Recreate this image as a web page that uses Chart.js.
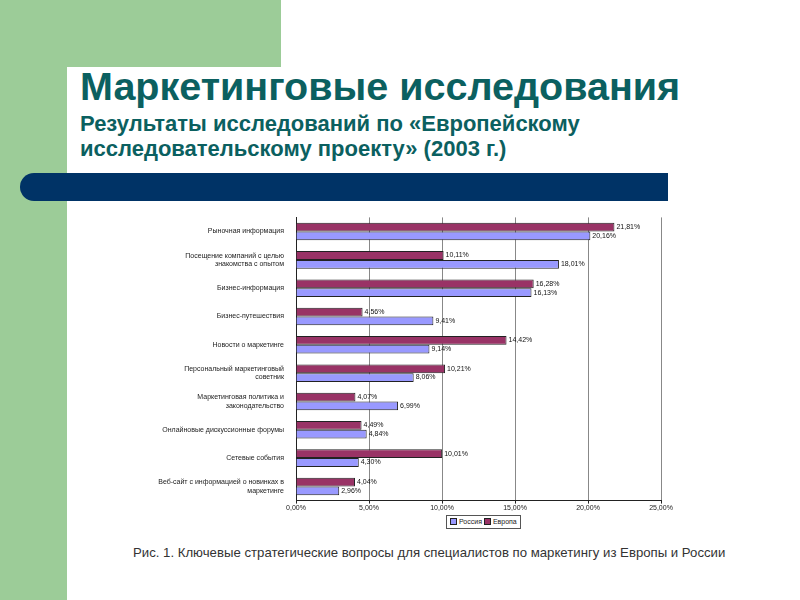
<!DOCTYPE html>
<html>
<head>
<meta charset="utf-8">
<script src="https://cdn.jsdelivr.net/npm/chart.js@4/dist/chart.umd.min.js"></script>
<style>
  body { margin: 0; width: 800px; height: 600px; overflow: hidden; background: #fff; font-family: "Liberation Sans", Arial, sans-serif; position: relative; }
  .greenTop { position: absolute; left: 0; top: 0; width: 281px; height: 67px; background: #9ccc98; }
  .greenLeft { position: absolute; left: 0; top: 0; width: 67px; height: 600px; background: #9ccc98; }
  .whiteCorner { position: absolute; left: 67px; top: 67px; width: 40px; height: 40px; background: #fff; border-top-left-radius: 18px; }
  .title { position: absolute; left: 80px; top: 64px; font-size: 39.5px; font-weight: bold; color: #0b6060; white-space: nowrap; }
  .subtitle { position: absolute; left: 80px; top: 111px; font-size: 22px; font-weight: bold; color: #0b6060; line-height: 25px; white-space: nowrap; }
  .navyBar { position: absolute; left: 20px; top: 173px; width: 648px; height: 28px; background: #003366; border-radius: 14px 0 0 14px; }
  .chartBox { position: absolute; left: 150px; top: 205px; width: 530px; height: 307px; }
  .legend { position: absolute; left: 446px; top: 515px; border: 1px solid #555; padding: 1px 3px; font-size: 7px; color: #222; white-space: nowrap; line-height: 10px; }
  .legend span.box { display: inline-block; width: 5px; height: 5px; border: 1px solid #222; margin-right: 2px; vertical-align: -1px; }
  .caption { position: absolute; left: 133px; top: 545px; font-size: 13.2px; color: #333; white-space: nowrap; }
</style>
</head>
<body>
<div class="greenTop"></div>
<div class="greenLeft"></div>
<div class="whiteCorner"></div>
<div class="title">Маркетинговые исследования</div>
<div class="subtitle">Результаты исследований по «Европейскому<br>исследовательскому проекту» (2003 г.)</div>
<div class="navyBar"></div>
<div class="chartBox"><canvas id="myChart" width="530" height="307"></canvas></div>
<div class="legend"><span class="box" style="background:#9999ff"></span>Россия <span class="box" style="background:#993366"></span>Европа</div>
<div class="caption">Рис. 1. Ключевые стратегические вопросы для специалистов по маркетингу из Европы и России</div>

<script>
const categories = [
  "Рыночная информация",
  ["Посещение компаний с целью", "знакомства с опытом"],
  "Бизнес-информация",
  "Бизнес-путешествия",
  "Новости о маркетинге",
  ["Персональный маркетинговый", "советник"],
  ["Маркетинговая политика и", "законодательство"],
  "Онлайновые дискуссионные форумы",
  "Сетевые события",
  ["Веб-сайт с информацией о новинках в", "маркетинге"],
];
const europe = [21.81, 10.11, 16.28, 4.56, 14.42, 10.21, 4.07, 4.49, 10.01, 4.04];
const russia = [20.16, 18.01, 16.13, 9.41, 9.14, 8.06, 6.99, 4.84, 4.30, 2.96];
const xTicks = [0, 5, 10, 15, 20, 25];

const pct = (v) => v.toFixed(2).replace(".", ",") + "%";

// подписи значений справа от столбцов
const valueLabels = {
  id: "valueLabels",
  afterDatasetsDraw(chart) {
    const ctx = chart.ctx;
    ctx.save();
    ctx.font = "7px 'Liberation Sans', Arial";
    ctx.fillStyle = "#111";
    ctx.textBaseline = "middle";
    chart.data.datasets.forEach((ds, i) => {
      chart.getDatasetMeta(i).data.forEach((bar, j) => {
        ctx.fillText(pct(ds.data[j]), bar.x + 2, bar.y);
      });
    });
    ctx.restore();
  },
};

const ctx = document.getElementById("myChart");

new Chart(ctx, {
  type: "bar",
  data: {
    labels: categories,
    datasets: [
      {
        label: "Европа",
        data: europe,
        backgroundColor: "#993366",
        borderColor: "#222",
        borderWidth: 1,
        categoryPercentage: 0.62,
        barPercentage: 1,
      },
      {
        label: "Россия",
        data: russia,
        backgroundColor: "#9999ff",
        borderColor: "#222",
        borderWidth: 1,
        categoryPercentage: 0.62,
        barPercentage: 1,
      },
    ],
  },
  options: {
    indexAxis: "y",
    responsive: false,
    animation: false,
    layout: { padding: { top: 7, right: 19, bottom: 0, left: 0 } },
    scales: {
      x: {
        min: 0,
        max: 25,
        afterBuildTicks: (scale) => {
          scale.ticks = xTicks.map((v) => ({ value: v }));
        },
        ticks: {
          callback: (v) => pct(v),
          font: { size: 7, family: "'Liberation Sans', Arial" },
          color: "#222",
          maxRotation: 0,
          padding: 0,
        },
        grid: { color: "#888", lineWidth: 1, tickLength: 3, tickColor: "#222" },
        border: { color: "#222" },
      },
      y: {
        afterFit: (scale) => {
          scale.width = 146;
        },
        ticks: {
          autoSkip: false,
          font: { size: 7, family: "'Liberation Sans', Arial" },
          color: "#222",
          padding: 4,
        },
        grid: { display: false, drawTicks: true },
        border: { color: "#222" },
      },
    },
    plugins: {
      legend: { display: false },
      tooltip: { enabled: false },
    },
  },
  plugins: [valueLabels],
});
</script>
</body>
</html>
